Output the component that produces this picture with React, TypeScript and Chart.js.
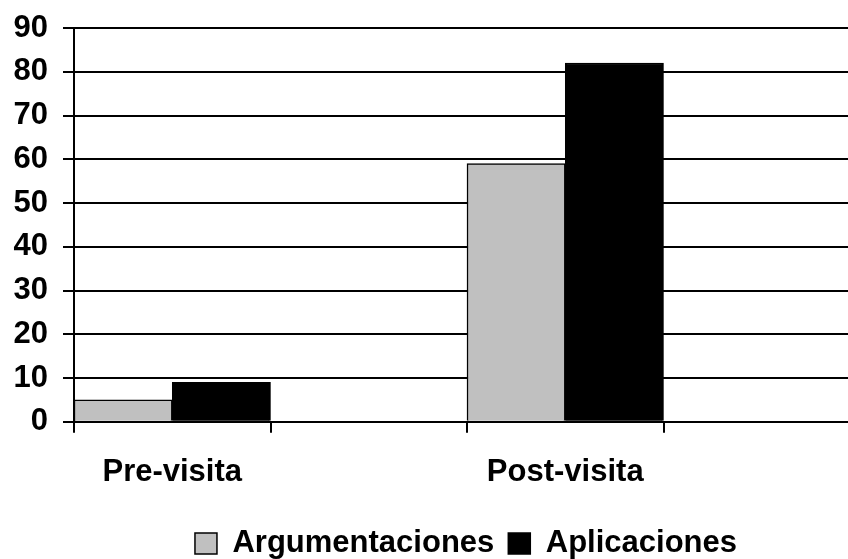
import React, { useEffect, useRef } from 'react';
import { Chart, registerables } from 'chart.js';

Chart.register(...registerables);

const categories = ['Pre-visita', '', 'Post-visita', ''];
const argumentaciones: (number | null)[] = [5, null, 59, null];
const aplicaciones: (number | null)[] = [9, null, 82, null];
const yMin = 0;
const yMax = 90;
const yStep = 10;

const FONT = { family: '"Liberation Sans", Arial, sans-serif', size: 31, weight: 'bold' as const };
const CANVAS_W = 900;
const CANVAS_H = 559;

const legendShift = {
  id: 'legendShift',
  afterLayout(chart: any) {
    const lg = chart.legend;
    if (lg) {
      lg.left += 36;
      lg.right += 36;
      lg.top += 2;
      lg.bottom += 2;
      if (lg.adjustHitBoxes) lg.adjustHitBoxes();
    }
  },
};

export default function App() {
  const ref = useRef<HTMLCanvasElement | null>(null);

  useEffect(() => {
    if (!ref.current) return;
    const chart = new Chart(ref.current, {
      type: 'bar',
      data: {
        labels: categories,
        datasets: [
          {
            label: 'Argumentaciones',
            data: argumentaciones,
            backgroundColor: '#C0C0C0',
            borderColor: '#000000',
            borderWidth: 1.5,
            categoryPercentage: 1,
            barPercentage: 1,
          },
          {
            label: 'Aplicaciones',
            data: aplicaciones,
            backgroundColor: '#000000',
            borderColor: '#000000',
            borderWidth: 1.5,
            categoryPercentage: 1,
            barPercentage: 1,
          },
        ],
      },
      options: {
        responsive: false,
        animation: false,
        layout: { padding: { left: 0, right: CANVAS_W - 860, top: 28, bottom: -8 } },
        plugins: {
          tooltip: { enabled: false },
          legend: {
            position: 'bottom',
            labels: {
              font: FONT,
              color: '#000',
              boxWidth: 22,
              boxHeight: 21,
              padding: 14,
            },
          },
        },
        scales: {
          x: {
            grid: {
              display: true,
              drawOnChartArea: false,
              drawTicks: true,
              tickLength: 11,
              color: '#000',
              lineWidth: 2,
              offset: true,
            },
            border: { display: true, color: '#000', width: 2 },
            ticks: { font: FONT, color: '#000', padding: 21, maxRotation: 0, autoSkip: false },
            afterFit: (s: any) => {
              s.paddingLeft = 0;
              s.paddingRight = 0;
            },
          },
          y: {
            min: yMin,
            max: yMax,
            ticks: { stepSize: yStep, font: FONT, color: '#000', padding: 15 },
            grid: { color: '#000', lineWidth: 2, tickLength: 11 },
            border: { display: true, color: '#000', width: 2 },
            afterFit: (s: any) => {
              s.width = 74;
              s.paddingTop = 0;
              s.paddingBottom = 0;
            },
          },
        },
      },
      plugins: [legendShift],
    });
    return () => chart.destroy();
  }, []);

  return (
    <div style={{ position: 'fixed', left: 0, top: 0, width: 848, height: 559, overflow: 'hidden', background: '#fff' }}>
      <canvas ref={ref} width={CANVAS_W} height={CANVAS_H} style={{ display: 'block' }} />
    </div>
  );
}
